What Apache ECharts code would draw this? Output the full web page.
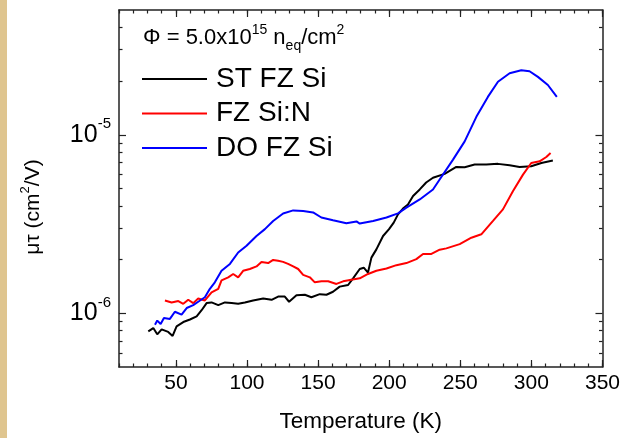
<!DOCTYPE html>
<html>
<head>
<meta charset="utf-8">
<script src="https://cdn.jsdelivr.net/npm/echarts@6/dist/echarts.min.js"></script>
<style>
html,body{margin:0;padding:0;background:#fff;}
#c{width:623px;height:438px;}
</style>
</head>
<body>
<div id="c"></div>
<script>
// ---- data ----
const seriesNames = ['ST FZ Si', 'FZ Si:N', 'DO FZ Si'];
const seriesColors = ['#000000', '#ff0000', '#0000ff'];

const T_ST = [30.6, 34.1, 36.9, 40.0, 44.6, 47.7, 50.5, 55.2, 59.9, 64.6, 68.1, 71.6, 75.1, 79.8, 84.5, 89.2, 93.8, 98.5, 104.3, 111.4, 117.3, 121.9, 126.6, 129.6, 134.8, 140.7, 145.3, 151.2, 155.9, 160.5, 165.2, 171.1, 174.6, 179.3, 182.1, 185.1, 187.5, 191.0, 195.7, 199.9, 203.2, 206.2, 209.7, 213.2, 216.8, 221.5, 226.0, 230.8, 239.0, 247.2, 253.1, 260.1, 268.3, 276.5, 284.7, 291.7, 299.9, 307.0, 315.1];
const V_ST = [7.92e-7, 8.26e-7, 7.62e-7, 8.13e-7, 7.86e-7, 7.46e-7, 8.45e-7, 8.93e-7, 9.23e-7, 9.6e-7, 1.04e-6, 1.14e-6, 1.15e-6, 1.11e-6, 1.15e-6, 1.14e-6, 1.13e-6, 1.15e-6, 1.18e-6, 1.21e-6, 1.19e-6, 1.24e-6, 1.24e-6, 1.16e-6, 1.26e-6, 1.27e-6, 1.23e-6, 1.28e-6, 1.27e-6, 1.32e-6, 1.41e-6, 1.44e-6, 1.57e-6, 1.77e-6, 1.80e-6, 1.69e-6, 2.05e-6, 2.28e-6, 2.71e-6, 2.96e-6, 3.22e-6, 3.58e-6, 3.86e-6, 4.07e-6, 4.54e-6, 4.94e-6, 5.4e-6, 5.74e-6, 6.04e-6, 6.60e-6, 6.58e-6, 6.81e-6, 6.81e-6, 6.87e-6, 6.74e-6, 6.60e-6, 6.66e-6, 6.95e-6, 7.17e-6];

const T_N = [42.3, 47.0, 51.7, 55.2, 58.7, 62.2, 65.7, 70.4, 75.1, 79.8, 82.1, 86.8, 90.3, 93.8, 97.3, 102.0, 106.7, 110.2, 114.9, 118.4, 121.9, 125.4, 128.9, 132.5, 136.0, 139.5, 144.2, 147.7, 152.4, 157.1, 162.9, 167.6, 173.4, 179.3, 185.1, 191.0, 198.1, 205.1, 212.1, 219.1, 223.8, 229.7, 235.5, 240.2, 249.6, 257.8, 264.8, 273.0, 280.0, 287.0, 294.1, 299.9, 305.8, 310.5, 313.5];
const V_N = [1.18e-6, 1.15e-6, 1.17e-6, 1.13e-6, 1.19e-6, 1.14e-6, 1.21e-6, 1.18e-6, 1.31e-6, 1.37e-6, 1.53e-6, 1.59e-6, 1.66e-6, 1.59e-6, 1.73e-6, 1.77e-6, 1.83e-6, 1.94e-6, 1.91e-6, 1.99e-6, 1.97e-6, 1.94e-6, 1.89e-6, 1.83e-6, 1.77e-6, 1.64e-6, 1.59e-6, 1.49e-6, 1.51e-6, 1.51e-6, 1.46e-6, 1.51e-6, 1.54e-6, 1.57e-6, 1.66e-6, 1.73e-6, 1.78e-6, 1.86e-6, 1.91e-6, 2.01e-6, 2.15e-6, 2.15e-6, 2.27e-6, 2.31e-6, 2.44e-6, 2.65e-6, 2.77e-6, 3.29e-6, 3.82e-6, 4.83e-6, 5.98e-6, 6.95e-6, 7.10e-6, 7.51e-6, 7.9e-6];

const T_DO = [35.3, 36.9, 39.3, 41.6, 45.8, 49.3, 54.0, 57.6, 62.2, 65.7, 70.4, 73.9, 77.4, 82.1, 88.0, 93.8, 99.7, 106.7, 112.6, 118.4, 125.4, 132.5, 139.5, 146.5, 152.3, 160.5, 169.9, 177.0, 179.3, 188.7, 198.1, 206.2, 212.1, 221.5, 230.8, 235.5, 244.9, 253.1, 261.3, 269.4, 276.5, 284.7, 292.9, 298.7, 304.6, 311.6, 317.9];
const V_DO = [8.63e-7, 9.1e-7, 8.7e-7, 9.4e-7, 9.3e-7, 1.02e-6, 9.83e-7, 1.07e-6, 1.11e-6, 1.16e-6, 1.23e-6, 1.37e-6, 1.49e-6, 1.73e-6, 1.89e-6, 2.19e-6, 2.39e-6, 2.71e-6, 2.96e-6, 3.29e-6, 3.62e-6, 3.77e-6, 3.74e-6, 3.67e-6, 3.44e-6, 3.32e-6, 3.19e-6, 3.27e-6, 3.18e-6, 3.29e-6, 3.44e-6, 3.63e-6, 3.91e-6, 4.34e-6, 4.94e-6, 5.62e-6, 7.26e-6, 9.18e-6, 1.26e-5, 1.63e-5, 1.98e-5, 2.21e-5, 2.30e-5, 2.27e-5, 2.11e-5, 1.90e-5, 1.63e-5];

const xMajorTicks = [50, 100, 150, 200, 250, 300, 350];
const yMajorTicks = [1e-6, 1e-5];
const yMinorTicks = [6e-7, 7e-7, 8e-7, 9e-7, 2e-6, 3e-6, 4e-6, 5e-6, 6e-6, 7e-6, 8e-6, 9e-6, 2e-5, 3e-5, 4e-5];
const X_MIN = 10, X_MAX = 350, Y_MIN = 5e-7, Y_MAX = 5e-5;

// ---- chart ----
const FONT = '"Liberation Sans", Arial, sans-serif';
const AX = '#222';
const chart = echarts.init(document.getElementById('c'), null, {renderer: 'canvas'});

function pairs(xs, ys) { return xs.map((x, i) => [x, ys[i]]); }

function xAx(pos, major, showLabel) {
  return {
    type: 'value', min: X_MIN, max: X_MAX, interval: 10, position: pos,
    axisLine: {show: !major, onZero: false, lineStyle: {color: AX, width: 1.5}},
    axisTick: major ? {show: true, inside: true, length: 7, customValues: xMajorTicks, lineStyle: {color: AX, width: 1.2}}
                    : {show: true, inside: true, length: 3.5, lineStyle: {color: AX, width: 1.2}},
    axisLabel: showLabel ? {show: true, customValues: xMajorTicks, margin: 6, color: '#000', fontSize: 21, fontFamily: FONT}
                         : {show: false},
    splitLine: {show: false},
    name: showLabel ? 'Temperature (K)' : '',
    nameLocation: 'middle', nameGap: 43,
    nameTextStyle: {fontSize: 22.5, color: '#000', fontFamily: FONT}
  };
}
function yAx(pos, major, showLabel) {
  return {
    type: 'log', logBase: 10, min: Y_MIN, max: Y_MAX, position: pos,
    axisLine: {show: !major, onZero: false, lineStyle: {color: AX, width: 1.5}},
    axisTick: major ? {show: true, inside: true, length: 7, customValues: yMajorTicks, lineStyle: {color: AX, width: 1.2}}
                    : {show: true, inside: true, length: 3.5, customValues: yMinorTicks, lineStyle: {color: AX, width: 1.2}},
    axisLabel: showLabel ? {
      show: true, customValues: yMajorTicks, margin: 8,
      formatter: function (v) { return '{b|10}{s|' + Math.round(Math.log10(v)) + '}'; },
      rich: {
        b: {fontSize: 25, lineHeight: 36, color: '#000', fontFamily: FONT},
        s: {fontSize: 15, lineHeight: 15, verticalAlign: 'top', color: '#000', fontFamily: FONT}
      }
    } : {show: false},
    splitLine: {show: false}
  };
}

const option = {
  animation: false,
  backgroundColor: '#ffffff',
  grid: {left: 119, right: 20, top: 10, bottom: 70, containLabel: false},
  xAxis: [xAx('bottom', false, true), xAx('bottom', true, false), xAx('top', false, false), xAx('top', true, false)],
  yAxis: [yAx('left', false, true), yAx('left', true, false), yAx('right', false, false), yAx('right', true, false)],
  legend: {
    orient: 'vertical', left: 142, top: 64, padding: 0,
    icon: 'rect', itemWidth: 65, itemHeight: 2, itemGap: 4.5,
    data: seriesNames,
    textStyle: {fontSize: 28, lineHeight: 30, color: '#000', fontFamily: FONT, padding: [0, 0, 0, 4]}
  },
  graphic: [
    {type: 'rect', left: 0, top: 0, shape: {width: 7, height: 438}, style: {fill: '#dfc58f'}, silent: true},
    {
      type: 'text', left: 143, top: 23,
      style: {
        text: '{a|\u03A6 = 5.0x10}{sup|15}{a| n}{sub|eq}{a|/cm}{sup|2}',
        rich: {
          a: {fontSize: 22, lineHeight: 30, fill: '#000', fontFamily: FONT},
          sup: {fontSize: 14, lineHeight: 14, verticalAlign: 'top', fill: '#000', fontFamily: FONT},
          sub: {fontSize: 14, lineHeight: 14, verticalAlign: 'bottom', fill: '#000', fontFamily: FONT}
        }
      }
    },
    {
      type: 'text', x: 33, y: 207, rotation: Math.PI / 2,
      style: {
        text: '{a|\u03BC\u03C4 (cm}{s|2}{a|/V)}',
        align: 'center', verticalAlign: 'middle',
        rich: {
          a: {fontSize: 21, lineHeight: 28, fill: '#000', fontFamily: FONT},
          s: {fontSize: 13, lineHeight: 13, verticalAlign: 'top', fill: '#000', fontFamily: FONT}
        }
      }
    }
  ],
  series: [
    {name: seriesNames[0], type: 'line', data: pairs(T_ST, V_ST)},
    {name: seriesNames[1], type: 'line', data: pairs(T_N, V_N)},
    {name: seriesNames[2], type: 'line', data: pairs(T_DO, V_DO)}
  ].map((s, i) => Object.assign(s, {
    xAxisIndex: 0, yAxisIndex: 0, symbol: 'none', showSymbol: false,
    color: seriesColors[i], lineStyle: {color: seriesColors[i], width: 2}
  }))
};
chart.setOption(option);
</script>
</body>
</html>
